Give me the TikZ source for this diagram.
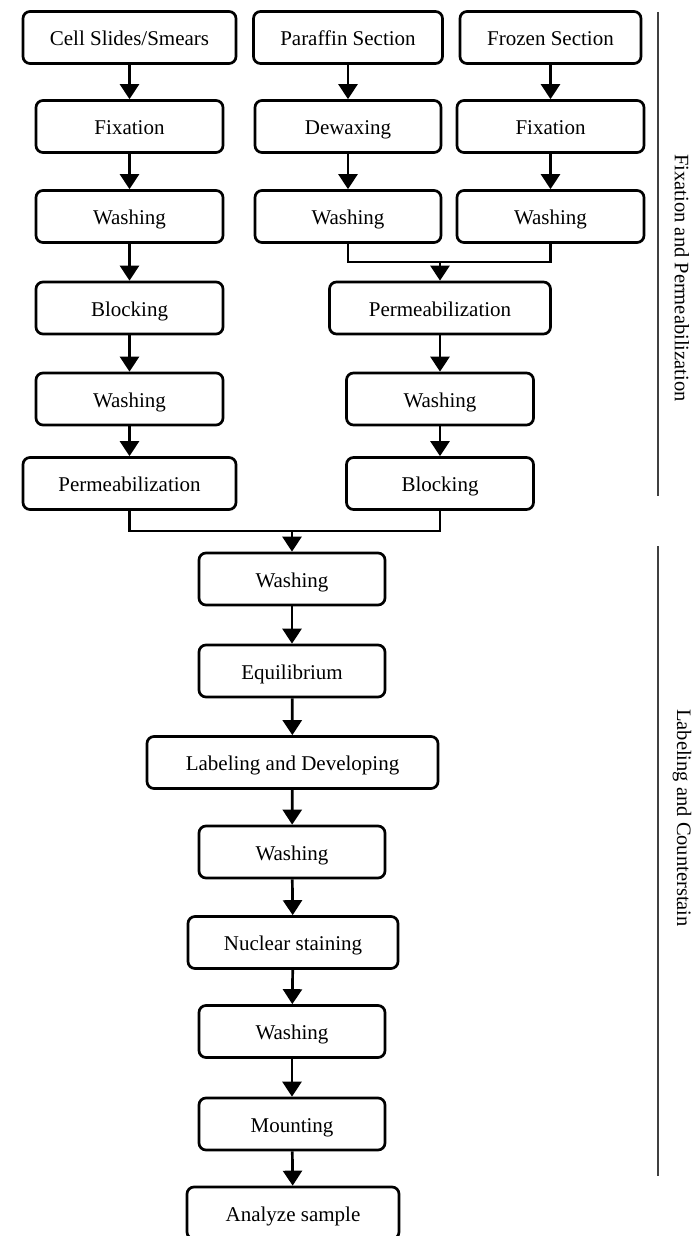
\documentclass[tikz,border=0pt]{standalone}
\usepackage{fontspec}
\setmainfont{Liberation Serif}
\usetikzlibrary{arrows.meta}
\tikzset{
  stepbox/.style={draw=black, line width=2.7pt, rounded corners=7pt, fill=white,
    minimum height=52pt, inner sep=0pt, align=center, text height=17pt, text depth=0.5pt,
    font=\fontsize{21}{24}\selectfont},
  flow/.style={line width=2.7pt, -{Triangle[width=19pt,length=15pt]}},
  joint/.style={line width=2.7pt},
  sideline/.style={line width=1.6pt, draw=black!75},
  sidelabel/.style={rotate=-90, font=\fontsize{20.5}{24}\selectfont, inner sep=0pt}
}
\begin{document}
\begin{tikzpicture}[x=1pt,y=-1pt]
\clip (0,0) rectangle (692,1236);
% column 1
\node[stepbox, minimum width=213pt] (a1) at (129.5,37.5) {Cell Slides/Smears};
\node[stepbox, minimum width=187pt] (a2) at (129.5,126.5) {Fixation};
\node[stepbox, minimum width=187pt] (a3) at (129.5,216.5) {Washing};
\node[stepbox, minimum width=187pt] (a4) at (129.5,308) {Blocking};
\node[stepbox, minimum width=187pt] (a5) at (129.5,399) {Washing};
\node[stepbox, minimum width=213pt] (a6) at (129.5,483.5) {Permeabilization};
% column 2
\node[stepbox, minimum width=189pt] (b1) at (348,37.5) {Paraffin Section};
\node[stepbox, minimum width=186pt] (b2) at (348,126.5) {Dewaxing};
\node[stepbox, minimum width=186pt] (b3) at (348,216.5) {Washing};
% column 3
\node[stepbox, minimum width=181pt] (c1) at (550.5,37.5) {Frozen Section};
\node[stepbox, minimum width=187pt] (c2) at (550.5,126.5) {Fixation};
\node[stepbox, minimum width=187pt] (c3) at (550.5,216.5) {Washing};
% merged column
\node[stepbox, minimum width=221pt] (d1) at (440,308) {Permeabilization};
\node[stepbox, minimum width=187pt] (d2) at (440,399) {Washing};
\node[stepbox, minimum width=187pt] (d3) at (440,483.5) {Blocking};
% main column
\node[stepbox, minimum width=186pt] (e1) at (292,579) {Washing};
\node[stepbox, minimum width=186pt] (e2) at (292,671) {Equilibrium};
\node[stepbox, minimum width=291pt] (e3) at (292.5,762.5) {Labeling and Developing};
\node[stepbox, minimum width=186pt] (e4) at (292,852) {Washing};
\node[stepbox, minimum width=210pt] (e5) at (293,942.5) {Nuclear staining};
\node[stepbox, minimum width=186pt] (e6) at (292,1031.5) {Washing};
\node[stepbox, minimum width=186pt] (e7) at (292,1124) {Mounting};
\node[stepbox, minimum width=212pt] (e8) at (293,1213) {Analyze sample};
% junction points
\coordinate (j1) at (440,262);
\coordinate (j2) at (292,531);
% connectors
\draw[flow] (a1) -- (a2);
\draw[flow] (a2) -- (a3);
\draw[flow] (a3) -- (a4);
\draw[flow] (a4) -- (a5);
\draw[flow] (a5) -- (a6);
\draw[flow] (b1) -- (b2);
\draw[flow] (b2) -- (b3);
\draw[flow] (c1) -- (c2);
\draw[flow] (c2) -- (c3);
\draw[joint] (b3.south) |- (j1) -| (c3.south);
\draw[flow] (j1) -- (d1.north);
\draw[flow] (d1) -- (d2);
\draw[flow] (d2) -- (d3);
\draw[joint] (a6.south) |- (j2) -| (d3.south);
\draw[flow] (j2) -- (e1.north);
\draw[flow] (e1) -- (e2);
\draw[flow] (e2) -- (e3);
\draw[flow] (e3) -- (e4);
\draw[flow] (e4) -- (e5);
\draw[flow] (e5) -- (e6);
\draw[flow] (e6) -- (e7);
\draw[flow] (e7) -- (e8);
% side brackets
\coordinate (s1) at (658,12);
\coordinate (s2) at (658,496);
\coordinate (s3) at (658,546);
\coordinate (s4) at (658,1176);
\draw[sideline] (s1) -- (s2);
\draw[sideline] (s3) -- (s4);
\node[sidelabel] (l1) at (682,278) {Fixation and Permeabilization};
\node[sidelabel] (l2) at (682,818) {Labeling and Counterstain};
\end{tikzpicture}
\end{document}
